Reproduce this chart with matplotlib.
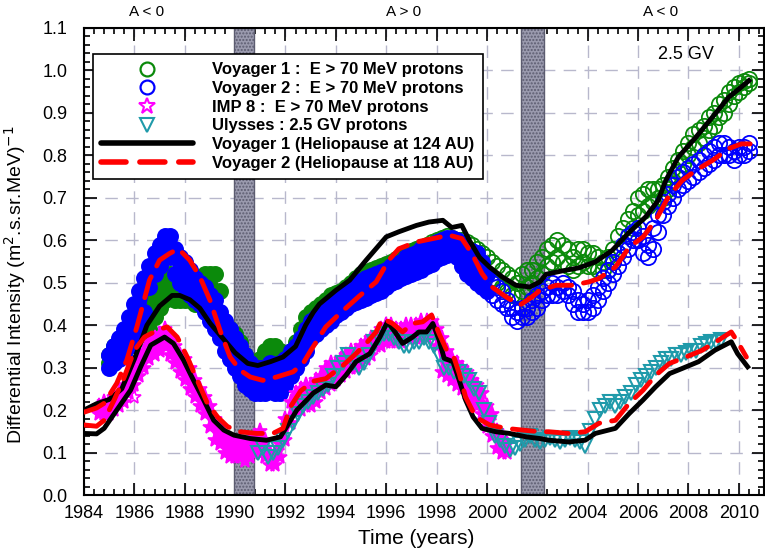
import numpy as np
import matplotlib
matplotlib.use("Agg")
import matplotlib.pyplot as plt
from matplotlib.lines import Line2D
from matplotlib.ticker import MultipleLocator

plt.rcParams['font.family'] = ['Liberation Sans', 'DejaVu Sans']

v1_years = [1985.0, 1985.2, 1985.4, 1985.6, 1985.8, 1986.0, 1986.2, 1986.4, 1986.6, 1986.8,
            1987.0, 1987.2, 1987.4, 1987.6, 1987.8, 1988.0, 1988.2, 1988.4, 1988.6, 1988.8,
            1989.0, 1989.2, 1989.4, 1989.6, 1989.8, 1990.0, 1990.2, 1990.4, 1990.6, 1990.8,
            1991.0, 1991.2, 1991.4, 1991.6, 1991.8, 1992.0, 1992.2, 1992.4, 1992.6, 1992.8,
            1993.0, 1993.2, 1993.4, 1993.6, 1993.8, 1994.0, 1994.2, 1994.4, 1994.6, 1994.8,
            1995.0, 1995.2, 1995.4, 1995.6, 1995.8, 1996.0, 1996.2, 1996.4, 1996.6, 1996.8,
            1997.0, 1997.2, 1997.4, 1997.6, 1997.8, 1998.0, 1998.2, 1998.4, 1998.6, 1998.8,
            1999.0, 1999.2, 1999.4, 1999.6, 1999.8, 2000.0, 2000.2, 2000.4, 2000.6, 2000.8,
            2001.0, 2001.2, 2001.4, 2001.6, 2001.8, 2002.0, 2002.2, 2002.4, 2002.6, 2002.8,
            2003.0, 2003.2, 2003.4, 2003.6, 2003.8, 2004.0, 2004.2, 2004.4, 2004.6, 2004.8,
            2005.0, 2005.2, 2005.4, 2005.6, 2005.8, 2006.0, 2006.2, 2006.4, 2006.6, 2006.8,
            2007.0, 2007.2, 2007.4, 2007.6, 2007.8, 2008.0, 2008.2, 2008.4, 2008.6, 2008.8,
            2009.0, 2009.2, 2009.4, 2009.6, 2009.8, 2010.0, 2010.2, 2010.4]
v1_upper = [0.33, 0.35, 0.36, 0.37, 0.38, 0.40, 0.42, 0.44, 0.46, 0.48,
            0.50, 0.52, 0.52, 0.50, 0.49, 0.50, 0.50, 0.51, 0.51, 0.52,
            0.52, 0.52, 0.48, 0.40, 0.39, 0.38, 0.36, 0.33, 0.31, 0.30,
            0.32, 0.34, 0.35, 0.35, 0.34, 0.33, 0.34, 0.36, 0.39, 0.42,
            0.43, 0.44, 0.45, 0.46, 0.47, 0.475, 0.48, 0.49, 0.50, 0.51,
            0.52, 0.525, 0.53, 0.535, 0.54, 0.545, 0.55, 0.555, 0.56, 0.57,
            0.575, 0.58, 0.585, 0.59, 0.595, 0.60, 0.605, 0.61, 0.605, 0.60,
            0.60, 0.595, 0.59, 0.58, 0.57, 0.56, 0.55, 0.54, 0.53, 0.52,
            0.51, 0.50, 0.52, 0.53, 0.53, 0.55, 0.56, 0.58, 0.59, 0.60,
            0.59, 0.58, 0.56, 0.58, 0.58, 0.57, 0.57, 0.56, 0.55, 0.56,
            0.58, 0.61, 0.63, 0.65, 0.67, 0.70, 0.71, 0.72, 0.72, 0.72,
            0.73, 0.75, 0.77, 0.79, 0.81, 0.83, 0.85, 0.86, 0.87, 0.89,
            0.90, 0.92, 0.93, 0.95, 0.96, 0.97, 0.975, 0.98]
v1_lower = [0.31, 0.32, 0.33, 0.34, 0.35, 0.36, 0.37, 0.38, 0.39, 0.42,
            0.44, 0.46, 0.47, 0.46, 0.46, 0.46, 0.46, 0.45, 0.45, 0.44,
            0.43, 0.41, 0.39, 0.37, 0.36, 0.34, 0.32, 0.30, 0.29, 0.28,
            0.29, 0.30, 0.31, 0.31, 0.31, 0.31, 0.32, 0.33, 0.35, 0.38,
            0.40, 0.41, 0.42, 0.43, 0.44, 0.445, 0.45, 0.46, 0.47, 0.48,
            0.49, 0.495, 0.50, 0.505, 0.51, 0.515, 0.52, 0.525, 0.53, 0.54,
            0.545, 0.55, 0.555, 0.56, 0.565, 0.57, 0.575, 0.58, 0.58, 0.58,
            0.57, 0.56, 0.55, 0.54, 0.53, 0.52, 0.51, 0.50, 0.49, 0.48,
            0.47, 0.47, 0.48, 0.49, 0.50, 0.51, 0.52, 0.54, 0.55, 0.56,
            0.55, 0.54, 0.53, 0.54, 0.55, 0.54, 0.54, 0.53, 0.53, 0.53,
            0.55, 0.57, 0.59, 0.61, 0.63, 0.66, 0.67, 0.68, 0.69, 0.70,
            0.70, 0.72, 0.74, 0.76, 0.78, 0.80, 0.82, 0.83, 0.84, 0.86,
            0.87, 0.89, 0.90, 0.92, 0.94, 0.95, 0.96, 0.97]

v2_years = v1_years
v2_upper = [0.33, 0.35, 0.37, 0.39, 0.42, 0.45, 0.48, 0.51, 0.54, 0.57,
            0.59, 0.61, 0.61, 0.58, 0.56, 0.55, 0.53, 0.51, 0.50, 0.49,
            0.47, 0.46, 0.43, 0.41, 0.39, 0.37, 0.35, 0.33, 0.31, 0.30,
            0.30, 0.30, 0.31, 0.30, 0.31, 0.32, 0.34, 0.35, 0.37, 0.39,
            0.41, 0.42, 0.43, 0.44, 0.455, 0.465, 0.47, 0.48, 0.49, 0.50,
            0.505, 0.51, 0.515, 0.52, 0.525, 0.53, 0.54, 0.545, 0.55, 0.56,
            0.565, 0.57, 0.58, 0.585, 0.59, 0.595, 0.60, 0.605, 0.605, 0.60,
            0.59, 0.58, 0.575, 0.57, 0.55, 0.52, 0.50, 0.49, 0.48, 0.46,
            0.44, 0.43, 0.44, 0.44, 0.46, 0.47, 0.48, 0.49, 0.50, 0.49,
            0.50, 0.49, 0.48, 0.46, 0.45, 0.46, 0.47, 0.49, 0.51, 0.53,
            0.55, 0.57, 0.59, 0.61, 0.62, 0.63, 0.61, 0.59, 0.63, 0.66,
            0.69, 0.71, 0.73, 0.75, 0.76, 0.77, 0.78, 0.79, 0.80, 0.81,
            0.82, 0.83, 0.83, 0.82, 0.81, 0.82, 0.82, 0.83]
v2_lower = [0.30, 0.31, 0.32, 0.33, 0.35, 0.37, 0.40, 0.43, 0.49, 0.52,
            0.54, 0.56, 0.56, 0.52, 0.50, 0.49, 0.47, 0.46, 0.45, 0.43,
            0.41, 0.39, 0.37, 0.34, 0.32, 0.30, 0.28, 0.26, 0.25, 0.24,
            0.24, 0.24, 0.25, 0.24, 0.24, 0.26, 0.28, 0.30, 0.32, 0.34,
            0.37, 0.38, 0.39, 0.40, 0.41, 0.425, 0.43, 0.44, 0.45, 0.455,
            0.46, 0.465, 0.47, 0.475, 0.48, 0.49, 0.50, 0.505, 0.51, 0.515,
            0.52, 0.525, 0.53, 0.54, 0.545, 0.555, 0.56, 0.565, 0.575, 0.56,
            0.54, 0.52, 0.51, 0.50, 0.49, 0.48, 0.47, 0.46, 0.45, 0.44,
            0.42, 0.41, 0.42, 0.42, 0.43, 0.44, 0.46, 0.47, 0.47, 0.47,
            0.48, 0.47, 0.45, 0.43, 0.43, 0.43, 0.44, 0.46, 0.48, 0.50,
            0.52, 0.54, 0.56, 0.58, 0.60, 0.60, 0.57, 0.56, 0.58, 0.62,
            0.66, 0.68, 0.70, 0.72, 0.73, 0.74, 0.75, 0.76, 0.77, 0.78,
            0.79, 0.80, 0.80, 0.80, 0.79, 0.80, 0.80, 0.81]

imp8_years = [1984.6, 1984.8, 1985.0, 1985.2, 1985.4, 1985.6, 1985.8, 1986.0, 1986.2, 1986.4,
              1986.6, 1986.8, 1987.0, 1987.2, 1987.4, 1987.6, 1987.8, 1988.0, 1988.2, 1988.4,
              1988.6, 1988.8, 1989.0, 1989.2, 1989.4, 1989.6, 1989.8, 1990.0, 1990.2, 1990.4,
              1990.6, 1990.8, 1991.0, 1991.2, 1991.4, 1991.6, 1991.8, 1992.0, 1992.2, 1992.4,
              1992.6, 1992.8, 1993.0, 1993.2, 1993.4, 1993.6, 1993.8, 1994.0, 1994.2, 1994.4,
              1994.6, 1994.8, 1995.0, 1995.2, 1995.4, 1995.6, 1995.8, 1996.0, 1996.2, 1996.4,
              1996.6, 1996.8, 1997.0, 1997.2, 1997.4, 1997.6, 1997.8, 1998.0, 1998.2, 1998.4,
              1998.6, 1998.8, 1999.0, 1999.2, 1999.4, 1999.6, 1999.8, 2000.0, 2000.2, 2000.4,
              2000.6, 2000.8]
imp8_upper = [0.21, 0.22, 0.22, 0.23, 0.24, 0.26, 0.28, 0.30, 0.32, 0.34,
              0.36, 0.37, 0.38, 0.39, 0.37, 0.35, 0.33, 0.32, 0.30, 0.27,
              0.25, 0.23, 0.21, 0.18, 0.16, 0.14, 0.13, 0.12, 0.13, 0.12,
              0.13, 0.14, 0.15, 0.13, 0.10, 0.10, 0.12, 0.18, 0.22, 0.24,
              0.25, 0.26, 0.26, 0.27, 0.28, 0.30, 0.31, 0.31, 0.32, 0.33,
              0.34, 0.34, 0.35, 0.36, 0.37, 0.375, 0.39, 0.40, 0.40, 0.39,
              0.39, 0.40, 0.40, 0.40, 0.41, 0.41, 0.41, 0.39, 0.37, 0.34,
              0.32, 0.31, 0.30, 0.29, 0.27, 0.26, 0.24, 0.21, 0.19, 0.15,
              0.13, 0.12]
imp8_lower = [0.19, 0.19, 0.19, 0.20, 0.21, 0.22, 0.24, 0.26, 0.28, 0.30,
              0.32, 0.33, 0.34, 0.35, 0.33, 0.31, 0.29, 0.27, 0.25, 0.23,
              0.21, 0.19, 0.16, 0.13, 0.12, 0.10, 0.09, 0.09, 0.09, 0.08,
              0.09, 0.10, 0.10, 0.09, 0.07, 0.07, 0.09, 0.13, 0.17, 0.20,
              0.20, 0.21, 0.21, 0.22, 0.24, 0.25, 0.26, 0.27, 0.28, 0.29,
              0.30, 0.30, 0.31, 0.32, 0.33, 0.35, 0.35, 0.36, 0.36, 0.36,
              0.36, 0.37, 0.37, 0.37, 0.37, 0.37, 0.38, 0.35, 0.29, 0.28,
              0.27, 0.26, 0.25, 0.24, 0.22, 0.21, 0.19, 0.16, 0.14, 0.11,
              0.10, 0.10]
imp8_stray_year = [1986.0]
imp8_stray_val = [0.23]

uly_years = [1990.9, 1991.1, 1991.3, 1991.5, 1991.7, 1991.9, 1992.1, 1992.3, 1992.5, 1992.7,
             1992.9, 1993.1, 1993.3, 1993.5, 1993.7, 1993.9, 1994.1, 1994.3, 1994.5, 1994.7,
             1994.9, 1995.1, 1995.3, 1995.5, 1995.7, 1995.9, 1996.1, 1996.3, 1996.5, 1996.7,
             1996.9, 1997.1, 1997.3, 1997.5, 1997.7, 1997.9, 1998.1, 1998.3, 1998.5, 1998.7,
             1998.9, 1999.1, 1999.3, 1999.5, 1999.7, 1999.9, 2000.1, 2000.3, 2000.5, 2000.7,
             2000.9, 2001.1, 2001.3, 2001.5, 2001.7, 2001.9, 2002.1, 2002.3, 2002.5, 2002.7,
             2002.9, 2003.1, 2003.3, 2003.5, 2003.7, 2003.9, 2004.1, 2004.3, 2004.5, 2004.7,
             2004.9, 2005.1, 2005.3, 2005.5, 2005.7, 2005.9, 2006.1, 2006.3, 2006.5, 2006.7,
             2006.9, 2007.1, 2007.3, 2007.5, 2007.7, 2007.9, 2008.1, 2008.3, 2008.5, 2008.7,
             2008.9, 2009.1, 2009.3]
uly_vals = [0.10, 0.11, 0.09, 0.10, 0.11, 0.13, 0.15, 0.17, 0.19, 0.21,
            0.22, 0.23, 0.24, 0.25, 0.26, 0.28, 0.30, 0.31, 0.33, 0.31,
            0.30, 0.31, 0.33, 0.36, 0.37, 0.38, 0.38, 0.37, 0.36, 0.35,
            0.35, 0.36, 0.36, 0.37, 0.36, 0.35, 0.33, 0.30, 0.30, 0.29,
            0.29, 0.28, 0.27, 0.25, 0.24, 0.20, 0.17, 0.14, 0.13, 0.115,
            0.105, 0.11, 0.12, 0.13, 0.14, 0.13, 0.125, 0.13, 0.135, 0.13,
            0.125, 0.13, 0.135, 0.13, 0.125, 0.115, 0.15, 0.18, 0.20, 0.21,
            0.22, 0.21, 0.22, 0.23, 0.24, 0.26, 0.27, 0.28, 0.29, 0.30,
            0.31, 0.32, 0.32, 0.33, 0.33, 0.335, 0.34, 0.34, 0.35, 0.355,
            0.36, 0.36, 0.365]

# --- model curves ---
bk_up_t = [1984.0, 1984.5, 1985.0, 1985.5, 1986.0, 1986.5, 1987.0, 1987.5, 1987.8, 1988.2,
           1988.6, 1989.0, 1989.5, 1990.0, 1990.5, 1990.9, 1991.4, 1991.9, 1992.4, 1992.8,
           1993.1, 1993.35, 1994.0, 1994.55, 1995.2, 1996.0, 1996.5, 1997.2, 1997.7, 1998.25,
           1998.6, 1999.0, 1999.3, 1999.7, 2000.1, 2000.6, 2001.15, 2001.7, 2002.1, 2002.35,
           2003.0, 2003.65, 2004.3, 2004.97, 2005.6, 2006.3, 2006.8, 2007.1, 2007.6, 2008.3,
           2008.95, 2009.6, 2010.1, 2010.4]
bk_up_v = [0.20, 0.215, 0.225, 0.25, 0.32, 0.40, 0.445, 0.47, 0.47, 0.46,
           0.44, 0.405, 0.37, 0.335, 0.31, 0.305, 0.314, 0.325, 0.35, 0.40,
           0.43, 0.45, 0.482, 0.506, 0.553, 0.608, 0.62, 0.635, 0.643, 0.647,
           0.63, 0.635, 0.60, 0.56, 0.537, 0.514, 0.494, 0.49, 0.502, 0.52,
           0.528, 0.535, 0.549, 0.576, 0.616, 0.655, 0.694, 0.741, 0.796, 0.843,
           0.89, 0.937, 0.961, 0.976]

rd_up_t = [1984.0, 1984.5, 1984.8, 1985.3, 1985.7, 1986.1, 1986.6, 1987.0, 1987.4, 1987.75,
           1988.2, 1988.6, 1989.0, 1989.4, 1989.8, 1990.2, 1990.6, 1991.1, 1991.65, 1992.3,
           1992.7, 1993.0, 1993.6, 1994.15, 1994.9, 1995.6, 1996.1, 1996.5, 1997.2, 1997.85,
           1998.5, 1999.0, 1999.4, 1999.8, 2000.2, 2000.75, 2001.3, 2001.8, 2002.1, 2002.75,
           2003.4, 2004.05, 2004.45, 2005.1, 2005.65, 2006.2, 2006.7, 2007.2, 2007.75, 2008.3,
           2008.95, 2009.6, 2010.1, 2010.45]
rd_up_v = [0.195, 0.205, 0.216, 0.263, 0.318, 0.396, 0.506, 0.553, 0.569, 0.58,
           0.553, 0.514, 0.459, 0.388, 0.325, 0.294, 0.278, 0.27, 0.278, 0.29,
           0.31, 0.34, 0.396, 0.427, 0.467, 0.502, 0.553, 0.58, 0.596, 0.604,
           0.612, 0.604, 0.569, 0.522, 0.49, 0.467, 0.447, 0.467, 0.482, 0.494,
           0.494, 0.502, 0.51, 0.537, 0.584, 0.608, 0.647, 0.702, 0.741, 0.765,
           0.788, 0.816, 0.827, 0.827]

bk_lo_t = [1984.0, 1984.5, 1984.8, 1985.3, 1985.85, 1986.25, 1986.65, 1987.2, 1987.55, 1987.95,
           1988.35, 1988.75, 1989.15, 1989.55, 1989.95, 1990.6, 1991.25, 1991.8, 1992.05, 1992.45,
           1992.85, 1993.1, 1993.6, 1994.0, 1994.4, 1994.8, 1995.35, 1995.75, 1996.05, 1996.35,
           1996.65, 1997.05, 1997.3, 1997.6, 1997.85, 1998.1, 1998.3, 1998.65, 1998.9, 1999.15,
           1999.45, 1999.8, 2000.35, 2000.9, 2001.55, 2002.1, 2002.45, 2003.25, 2003.9, 2004.3,
           2005.1, 2005.65, 2006.2, 2006.7, 2007.25, 2007.75, 2008.4, 2009.05, 2009.7, 2009.95,
           2010.35]
bk_lo_v = [0.145, 0.144, 0.157, 0.20, 0.247, 0.302, 0.353, 0.372, 0.357, 0.318,
           0.27, 0.224, 0.176, 0.153, 0.141, 0.133, 0.129, 0.137, 0.161, 0.20,
           0.224, 0.24, 0.259, 0.255, 0.282, 0.314, 0.333, 0.372, 0.408, 0.384,
           0.357, 0.372, 0.384, 0.384, 0.404, 0.365, 0.322, 0.314, 0.27, 0.224,
           0.184, 0.157, 0.149, 0.145, 0.137, 0.133, 0.129, 0.125, 0.129, 0.145,
           0.157, 0.192, 0.224, 0.255, 0.286, 0.298, 0.314, 0.341, 0.361, 0.333,
           0.302]

rd_lo_t = [1984.0, 1984.5, 1984.8, 1985.2, 1985.6, 1986.0, 1986.4, 1986.9, 1987.3, 1987.7,
           1988.1, 1988.5, 1988.9, 1989.3, 1989.7, 1990.2, 1990.85, 1991.5, 1991.9, 1992.2,
           1992.6, 1993.1, 1993.6, 1994.3, 1994.8, 1995.2, 1995.6, 1995.85, 1996.25, 1996.65,
           1997.05, 1997.45, 1997.8, 1998.1, 1998.4, 1998.7, 1998.9, 1999.15, 1999.55, 2000.1,
           2000.75, 2001.4, 2002.1, 2002.45, 2003.25, 2003.9, 2004.45, 2005.1, 2005.65, 2006.2,
           2006.7, 2007.25, 2007.9, 2008.55, 2009.2, 2009.7, 2009.95, 2010.3]
rd_lo_v = [0.165, 0.162, 0.176, 0.224, 0.278, 0.341, 0.372, 0.388, 0.396, 0.372,
           0.325, 0.27, 0.216, 0.184, 0.161, 0.149, 0.145, 0.145, 0.157, 0.208,
           0.245, 0.268, 0.274, 0.306, 0.333, 0.357, 0.384, 0.416, 0.404, 0.384,
           0.404, 0.408, 0.424, 0.38, 0.341, 0.322, 0.286, 0.231, 0.184, 0.165,
           0.157, 0.153, 0.149, 0.149, 0.145, 0.149, 0.169, 0.176, 0.216, 0.247,
           0.282, 0.31, 0.325, 0.341, 0.365, 0.384, 0.361, 0.325]

# solar maximum bands and magnetic polarity epochs
bands = [(1989.95, 1990.75), (2001.35, 2002.25)]
polarity_x = [1986.5, 1996.7, 2006.9]
polarity_txt = ['A < 0', 'A > 0', 'A < 0']

green = '#0b8a0b'
blue = '#0000ff'
magenta = '#ff00ff'
teal = '#1f9aaa'

fig = plt.figure(figsize=(7.65, 5.53), dpi=100)
ax = fig.add_axes([84 / 765, 58 / 553, 680 / 765, 467 / 553])

for a, b in bands:
    ax.axvspan(a, b, facecolor='#9a9aae', edgecolor='#5c5c70', hatch='.....', lw=1.0, zorder=1)


def data_band(years, lo, hi, color, marker, ms, until, z):
    # before `until` the symbols overlap so much that the band looks solid
    t = np.array(years)
    lo = np.array(lo)
    hi = np.array(hi)
    d = t <= until
    ax.fill_between(t[d], lo[d], hi[d], color=color, lw=0, zorder=z)
    for y in (hi, lo):
        ax.plot(t[d], y[d], ls='none', marker=marker, mfc=color, mec=color,
                ms=ms, mew=1.2, zorder=z)
        ax.plot(t[~d], y[~d], ls='none', marker=marker, mfc='none', mec=color,
                ms=ms, mew=1.3, zorder=z)


data_band(v1_years, v1_lower, v1_upper, green, 'o', 11, 1997.3, 2.0)
data_band(v2_years, v2_lower, v2_upper, blue, 'o', 11, 2000.0, 2.2)
data_band(imp8_years, imp8_lower, imp8_upper, magenta, '*', 11, 2001, 2.4)
ax.plot(imp8_stray_year, imp8_stray_val, ls='none', marker='*', mfc='none', mec=magenta,
        ms=11, mew=1.2, zorder=2.4)
ax.plot(uly_years, uly_vals, ls='none', marker='v', mfc='none', mec=teal, ms=10, mew=1.5,
        zorder=2.6)

ax.plot(bk_up_t, bk_up_v, color='black', lw=3.5, zorder=4, solid_joinstyle='round')
ax.plot(bk_lo_t, bk_lo_v, color='black', lw=3.5, zorder=4, solid_joinstyle='round')
ax.plot(rd_up_t, rd_up_v, color='red', lw=3.5, dashes=(4.5, 2.5), dash_capstyle='round', zorder=5)
ax.plot(rd_lo_t, rd_lo_v, color='red', lw=3.5, dashes=(4.5, 2.5), dash_capstyle='round', zorder=5)

ax.set_xlim(1984, 2011)
ax.set_ylim(0, 1.1)
ax.xaxis.set_major_locator(MultipleLocator(2))
ax.xaxis.set_minor_locator(MultipleLocator(0.4))
ax.yaxis.set_major_locator(MultipleLocator(0.1))
ax.yaxis.set_minor_locator(MultipleLocator(0.02))
ax.yaxis.set_major_formatter(plt.FormatStrFormatter('%.1f'))
ax.tick_params(which='both', direction='in', top=True, right=True, labelsize=13, width=1.2)
ax.tick_params(which='major', length=9)
ax.tick_params(which='minor', length=4)
ax.tick_params(axis='x', pad=7)
ax.tick_params(axis='y', pad=12)
ax.grid(True, which='major', color='#b8b8cc', lw=1.0, dashes=(9, 6), zorder=0)
ax.set_axisbelow(True)
for s in ax.spines.values():
    s.set_linewidth(1.5)

ax.set_xlabel('Time (years)', fontsize=15)
ax.xaxis.set_label_coords(0.488, -0.072)
ax.set_ylabel('Differential Intensity (m$^2$.s.sr.MeV)$^{-1}$', fontsize=14)
ax.yaxis.set_label_coords(-0.083, 0.45)

for x, t in zip(polarity_x, polarity_txt):
    ax.text(x, 1.034, t, transform=ax.get_xaxis_transform(), ha='center', va='center', fontsize=11)
ax.text(2007.9, 1.038, '2.5 GV', ha='center', va='center', fontsize=13)

handles = [
    Line2D([], [], ls='none', marker='o', mfc='none', mec=green, ms=10, mew=1.6),
    Line2D([], [], ls='none', marker='o', mfc='none', mec=blue, ms=10, mew=1.6),
    Line2D([], [], ls='none', marker='*', mfc='none', mec=magenta, ms=12, mew=1.5),
    Line2D([], [], ls='none', marker='v', mfc='none', mec=teal, ms=10, mew=1.5),
    Line2D([], [], color='black', lw=4, solid_capstyle='round'),
    Line2D([], [], color='red', lw=4, dashes=(4.5, 2.5), dash_capstyle='round'),
]
labels = ['Voyager 1 :  E > 70 MeV protons',
          'Voyager 2 :  E > 70 MeV protons',
          'IMP 8 :  E > 70 MeV protons',
          'Ulysses : 2.5 GV protons',
          'Voyager 1 (Heliopause at 124 AU)',
          'Voyager 2 (Heliopause at 118 AU)']
leg = ax.legend(handles, labels, loc='upper left', bbox_to_anchor=(0.013, 0.944),
                borderaxespad=0, fancybox=False, framealpha=1, edgecolor='black',
                prop={'weight': 'bold', 'size': 12}, handlelength=5.5, handletextpad=1.15,
                labelspacing=0.22, borderpad=0.5)
leg.get_frame().set_linewidth(1.2)
leg.set_zorder(10)

fig.savefig('out.png', dpi=100)
